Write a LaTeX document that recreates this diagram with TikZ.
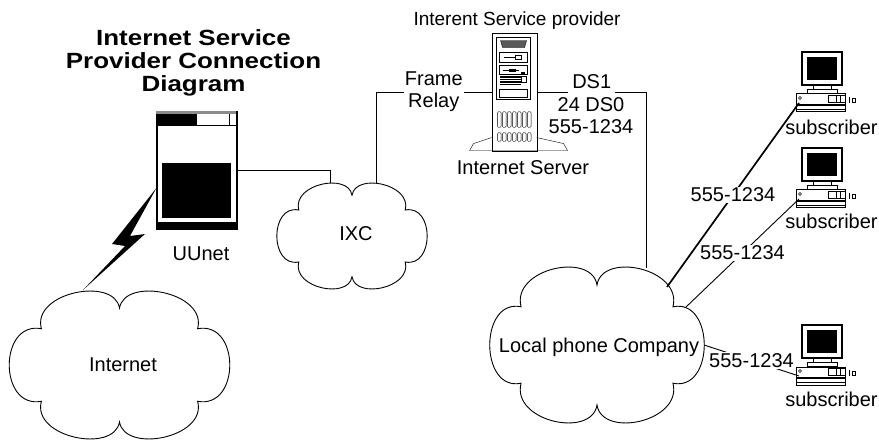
\documentclass[tikz,border=0pt]{standalone}
\usepackage{fontspec}
\setmainfont{Liberation Sans}
\newfontfamily\titlefont{Liberation Sans}[FakeStretch=1.18]
\usetikzlibrary{calc}

\tikzset{
  lbl/.style={font=\fontsize{20}{22}\selectfont, inner sep=1pt},
  wire/.style={line width=0.9pt},
  % unit cloud, scaled to size where it is placed
  puffcloud/.pic={
    \draw[line width=0.9pt] (0,0.77) .. controls (0.05,1.2) and (0.8,0.98) .. (0.71,0.49)
      .. controls (1.1,0.6) and (1.1,-0.6) .. (0.71,-0.49)
      .. controls (0.8,-0.98) and (0.05,-1.2) .. (0,-0.77)
      .. controls (-0.05,-1.2) and (-0.8,-0.98) .. (-0.71,-0.49)
      .. controls (-1.1,-0.6) and (-1.1,0.6) .. (-0.71,0.49)
      .. controls (-0.8,0.98) and (-0.05,1.2) .. (0,0.77) -- cycle;
  },
  % monitor on a desktop box, origin at the box's top left corner
  workstation/.pic={
    \draw[line width=1.2pt] (6,9) rectangle (46,42);
    \fill (11,14) rectangle (41,37);
    \draw (17,5) rectangle (35,9);
    \draw (11,1) rectangle (41,5);
    \draw[line width=1pt] (0,0) rectangle (49,-18);
    \fill (0,-10) rectangle (49,-12);
    \draw (0,-15) -- (49,-15);
    \draw (4,-4) circle (1.5);
    \draw (32,-1.5) rectangle (49,-8.5);
    \draw (40,-1.5) -- (40,-8.5) (44,-1.5) -- (44,-8.5);
    \draw (53,-3) -- (53,-9);
    \draw (56,-4) rectangle (59,-8);
    \coordinate (-port) at (3,-9);
  },
}

\begin{document}
\begin{tikzpicture}[x=1pt,y=1pt]
\useasboundingbox (0,0) rectangle (879,-441);

\node[font=\titlefont\bfseries\fontsize{22}{23}\selectfont, align=center, inner sep=0pt] (title)
  at (193.5,-62.5) {Internet Service\\Provider Connection\\Diagram};

% UUnet cabinet
\node[draw, line width=1.1pt, minimum width=80pt, minimum height=117pt, inner sep=0pt] (uunet) at (197,-170.5) {};
\begin{scope}[shift={(uunet.north west)}]
  \fill[black!45] (0,0) rectangle (80,-2.5);
  \fill (0,-3) rectangle (41,-14);
  \draw (0,-14) -- (80,-14) (73,-3) -- (73,-14);
  \fill (6,-52) rectangle (75,-107);
  \fill (0,-111) rectangle (80,-117);
\end{scope}
\node[lbl, anchor=base] (uunetlbl) at (201,-260) {UUnet};

% clouds
\pic[xscale=110, yscale=74] at (119.5,-365) {puffcloud};
\node[lbl, anchor=base] (inet) at (123,-371) {Internet};
\pic[xscale=75, yscale=53] at (352,-236) {puffcloud};
\node[lbl] (ixc) at (356,-234) {IXC};
\pic[xscale=107, yscale=78] at (597,-345) {puffcloud};
\node[lbl, anchor=base] (lpc) at (599,-352) {Local phone Company};

\coordinate (inetN) at (83,-290);
\coordinate (ixcW) at (330,-183);
\coordinate (ixcE) at (376,-183);
\coordinate (lpcN) at (646,-268);
\coordinate (lpcA) at (667,-287);
\coordinate (lpcB) at (686,-307);
\coordinate (lpcE) at (704,-345);

% internet server tower
\node[draw, line width=0.9pt, minimum width=45pt, minimum height=118pt, inner sep=0pt] (isp) at (514.5,-92) {};
\begin{scope}[shift={(isp.north west)}]
  \draw (5,-5) rectangle (39,-67);
  \filldraw[fill=black!65] (9,-8) -- (35,-8) -- (33,-15) -- (11,-15) -- cycle;
  \draw (8,-20) rectangle (36,-30);
  \draw (12,-25) -- (24,-25);
  \draw (24,-23) rectangle (30,-27);
  \draw (8,-33) rectangle (36,-42);
  \draw (11,-37.5) -- (27,-37.5);
  \fill (17,-36) rectangle (24,-39);
  \fill (29,-39) rectangle (33,-41.5);
  \foreach \y in {-44.5,-47,-49.5,-52}
    \draw[line width=1.2pt] (8,\y) -- (29,\y);
  \draw (30,-44) rectangle (35,-50);
  \draw (8,-57) rectangle (36,-65);
  \foreach \x in {6,11,...,36} {
    \draw[rounded corners=1.2pt] (\x,-79) rectangle ++(3.5,-16);
    \draw[rounded corners=1.2pt] (\x,-100) rectangle ++(3.5,-9);
  }
  \draw (0,-105) -- (-18,-111) -- (-22,-118) -- (76,-118) -- (72,-111) -- (45,-105);
\end{scope}
\node[lbl, anchor=base, font=\fontsize{19}{22}\selectfont] (isptop) at (517,-26) {Interent Service provider};
\node[lbl, anchor=base] (isplbl) at (523,-175) {Internet Server};

% subscribers
\pic (s1) at (796,-94) {workstation};
\pic (s2) at (796,-190) {workstation};
\pic (s3) at (796,-367) {workstation};
\node[lbl, anchor=base] (s1lbl) at (831.5,-135) {subscriber};
\node[lbl, anchor=base] (s2lbl) at (831.5,-229) {subscriber};
\node[lbl, anchor=base] (s3lbl) at (831.5,-406) {subscriber};

% links
\fill ([yshift=-17.5pt]uunet.west) -- (112,-244) -- (125,-246) -- (inetN) -- (145,-234) -- (130,-236) -- cycle;
\draw[wire] (uunet.east) -| (ixcW);
\draw[wire] (ixcE) |- (isp.west) node[lbl, pos=0.75, fill=white, align=center] (relay) {Frame\\Relay};
\draw[wire] (isp.east) -| (lpcN) node[lbl, pos=0.25, anchor=base, yshift=3pt, fill=white, inner sep=4pt] (ds1) {DS1};
\node[lbl, align=center] (ds0) at (591,-116) {24 DS0\\555-1234};
\draw[line width=1.7pt] (s1-port) -- (lpcA) node[lbl, midway, fill=white] {555-1234};
\draw[wire] (s2-port) -- (lpcB) node[lbl, midway, fill=white] {555-1234};
\draw[wire] (s3-port) -- (lpcE) node[lbl, midway, fill=white] {555-1234};
\end{tikzpicture}
\end{document}
